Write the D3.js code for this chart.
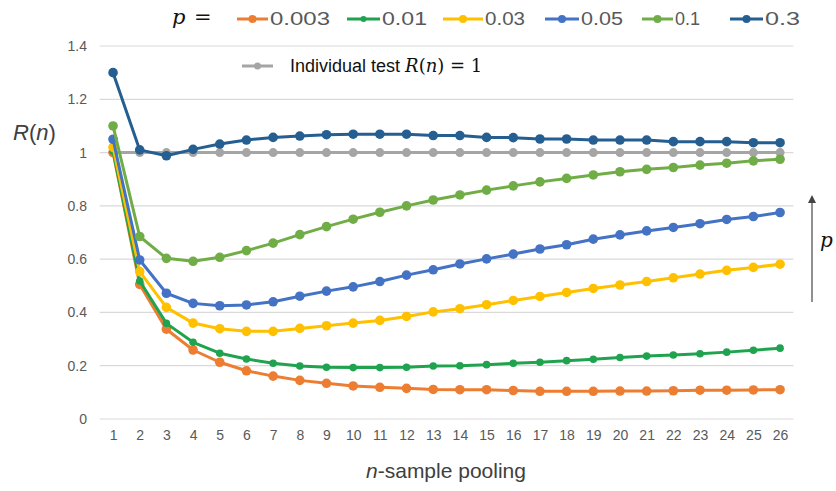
<!DOCTYPE html>
<html>
<head>
<meta charset="utf-8">
<script src="https://cdn.jsdelivr.net/npm/d3@7/dist/d3.min.js"></script>
<style>
  html, body { margin: 0; padding: 0; background: #fff; }
  svg { display: block; }
</style>
</head>
<body>
<svg id="chart" width="836" height="491"></svg>
<script>
// ---------- data ----------
const categories = d3.range(1, 27); // n = 1..26
const yTicks = [0, 0.2, 0.4, 0.6, 0.8, 1, 1.2, 1.4];
const yTickLabels = ["0", "0.2", "0.4", "0.6", "0.8", "1", "1.2", "1.4"];

const seriesNames = ["0.003", "0.01", "0.03", "0.05", "0.1", "0.3"];
const seriesColors = ["#ED7D31", "#1FA34F", "#FFC000", "#4472C4", "#70AD47", "#255E91"];

const p0003 = [1.00, 0.505, 0.337, 0.259, 0.213, 0.181, 0.161, 0.145, 0.134, 0.124, 0.119, 0.115, 0.111, 0.110, 0.110, 0.107, 0.104, 0.104, 0.104, 0.105, 0.105, 0.106, 0.108, 0.108, 0.109, 0.110];
const p001  = [1.005, 0.518, 0.359, 0.288, 0.247, 0.225, 0.209, 0.199, 0.194, 0.193, 0.193, 0.194, 0.199, 0.200, 0.204, 0.209, 0.213, 0.219, 0.224, 0.231, 0.236, 0.240, 0.245, 0.251, 0.258, 0.266];
const p003  = [1.02, 0.553, 0.419, 0.360, 0.339, 0.329, 0.329, 0.340, 0.350, 0.360, 0.370, 0.385, 0.402, 0.414, 0.429, 0.445, 0.460, 0.475, 0.490, 0.503, 0.516, 0.530, 0.544, 0.558, 0.569, 0.581];
const p005  = [1.05, 0.597, 0.472, 0.434, 0.425, 0.428, 0.440, 0.461, 0.480, 0.496, 0.516, 0.540, 0.560, 0.582, 0.601, 0.619, 0.638, 0.654, 0.675, 0.691, 0.706, 0.719, 0.733, 0.749, 0.760, 0.775];
const p01   = [1.10, 0.685, 0.603, 0.592, 0.607, 0.632, 0.660, 0.692, 0.722, 0.750, 0.776, 0.800, 0.822, 0.841, 0.859, 0.875, 0.890, 0.903, 0.916, 0.928, 0.937, 0.944, 0.953, 0.960, 0.969, 0.975];
const p03   = [1.30, 1.010, 0.988, 1.012, 1.032, 1.047, 1.057, 1.062, 1.067, 1.069, 1.069, 1.069, 1.064, 1.064, 1.057, 1.056, 1.051, 1.051, 1.047, 1.047, 1.047, 1.041, 1.041, 1.041, 1.037, 1.037];
const individual = categories.map(() => 1);

const seriesValues = [p0003, p001, p003, p005, p01, p03];

// ---------- layout ----------
const svg = d3.select("#chart");
const x = d3.scalePoint().domain(categories).range([99.7, 793.4]).padding(0.5);
const y = d3.scaleLinear().domain([0, 1.4]).range([419, 46]);

const labelFont = "'Liberation Sans', Arial, sans-serif";
const tickColor = "#595959";

// gridlines
svg.append("g").selectAll("line").data(yTicks).join("line")
  .attr("x1", 99.7).attr("x2", 793.4)
  .attr("y1", d => y(d)).attr("y2", d => y(d))
  .attr("stroke", "#d9d9d9").attr("stroke-width", 1.2);

// y axis (labels only)
const yAxis = d3.axisLeft(y).tickValues(yTicks)
  .tickFormat((d, i) => yTickLabels[i]).tickSize(0).tickPadding(0);
const gy = svg.append("g").attr("transform", "translate(87,0)").call(yAxis);
gy.select(".domain").remove();
gy.selectAll("text").attr("fill", tickColor).style("font-family", labelFont).style("font-size", "14px");

// x axis (labels only)
const xAxis = d3.axisBottom(x).tickSize(0).tickPadding(0);
const gx = svg.append("g").attr("transform", "translate(0,430)").call(xAxis);
gx.select(".domain").remove();
gx.selectAll("text").attr("fill", tickColor).style("font-family", labelFont).style("font-size", "14px");

// lines
const line = d3.line().x((d, i) => x(categories[i])).y(d => y(d));

function drawSeries(vals, color, r, sw) {
  const g = svg.append("g");
  g.append("path").datum(vals).attr("d", line)
    .attr("fill", "none").attr("stroke", color).attr("stroke-width", sw)
    .attr("stroke-linejoin", "round");
  g.selectAll("circle").data(vals).join("circle")
    .attr("cx", (d, i) => x(categories[i])).attr("cy", d => y(d))
    .attr("r", r).attr("fill", color);
}

drawSeries(individual, "#A5A5A5", 4.5, 3);
seriesValues.forEach((vals, k) => {
  drawSeries(vals, seriesColors[k], k === 1 ? 3.8 : 4.8, 3);
});

// ---------- top legend ----------
svg.append("text").attr("x", 172).attr("y", 24)
  .style("font-family", "'DejaVu Serif', 'Liberation Serif', serif")
  .style("font-style", "italic").style("font-size", "21px").attr("fill", "#111")
  .text("p");
svg.append("text").attr("x", 194).attr("y", 24)
  .style("font-family", "'DejaVu Serif', 'Liberation Serif', serif")
  .style("font-size", "21px").attr("fill", "#111")
  .text("=");

const legendLineX = [237, 347, 443, 545, 642, 730];
const legendLineW = [31, 33, 40, 34, 31, 33];
const legendTextW = [60, 45, 40, 42, 25, 35];
seriesNames.forEach((name, k) => {
  const lx = legendLineX[k], lw = legendLineW[k];
  svg.append("line").attr("x1", lx).attr("x2", lx + lw).attr("y1", 19).attr("y2", 19)
    .attr("stroke", seriesColors[k]).attr("stroke-width", 3);
  svg.append("circle").attr("cx", lx + lw / 2).attr("cy", 19).attr("r", k === 1 ? 3 : 4)
    .attr("fill", seriesColors[k]);
  svg.append("text").attr("x", lx + lw + 2).attr("y", 25)
    .attr("textLength", legendTextW[k]).attr("lengthAdjust", "spacingAndGlyphs")
    .style("font-family", labelFont).style("font-size", "18px").attr("fill", tickColor)
    .text(name);
});

// individual test legend
svg.append("line").attr("x1", 242).attr("x2", 273).attr("y1", 66).attr("y2", 66)
  .attr("stroke", "#A5A5A5").attr("stroke-width", 3);
svg.append("circle").attr("cx", 257.5).attr("cy", 66).attr("r", 3.5).attr("fill", "#A5A5A5");
const indText = svg.append("text").attr("x", 290).attr("y", 72)
  .style("font-size", "18px").attr("fill", "#111");
indText.append("tspan").style("font-family", labelFont).text("Individual test ");
indText.append("tspan").style("font-family", "'DejaVu Serif', 'Liberation Serif', serif").style("font-style", "italic").text("R");
indText.append("tspan").style("font-family", "'DejaVu Serif', 'Liberation Serif', serif").text("(");
indText.append("tspan").style("font-family", "'DejaVu Serif', 'Liberation Serif', serif").style("font-style", "italic").text("n");
indText.append("tspan").style("font-family", "'DejaVu Serif', 'Liberation Serif', serif").text(") = 1");

// ---------- axis titles ----------
const yTitle = svg.append("text").attr("x", 13).attr("y", 140)
  .style("font-family", labelFont).style("font-size", "22px").attr("fill", "#404040");
yTitle.append("tspan").style("font-style", "italic").text("R");
yTitle.append("tspan").text("(");
yTitle.append("tspan").style("font-style", "italic").text("n");
yTitle.append("tspan").text(")");

const xTitle = svg.append("text").attr("x", 446).attr("y", 478).attr("text-anchor", "middle")
  .style("font-family", labelFont).style("font-size", "21px").attr("fill", "#404040");
xTitle.append("tspan").style("font-style", "italic").text("n");
xTitle.append("tspan").text("-sample pooling");

// ---------- right arrow ----------
svg.append("defs").append("marker").attr("id", "arrowhead")
  .attr("viewBox", "0 0 10 10").attr("refX", 5).attr("refY", 5)
  .attr("markerWidth", 8).attr("markerHeight", 10).attr("markerUnits", "userSpaceOnUse")
  .attr("orient", "auto")
  .append("path").attr("d", "M0,0 L10,5 L0,10 Z").attr("fill", "#444");
svg.append("line").attr("x1", 812).attr("x2", 812).attr("y1", 302).attr("y2", 199)
  .attr("stroke", "#555").attr("stroke-width", 1.3).attr("marker-end", "url(#arrowhead)");
svg.append("text").attr("x", 820).attr("y", 247)
  .style("font-family", "'DejaVu Serif', 'Liberation Serif', serif")
  .style("font-style", "italic").style("font-size", "20px").attr("fill", "#111")
  .text("p");
</script>
</body>
</html>
